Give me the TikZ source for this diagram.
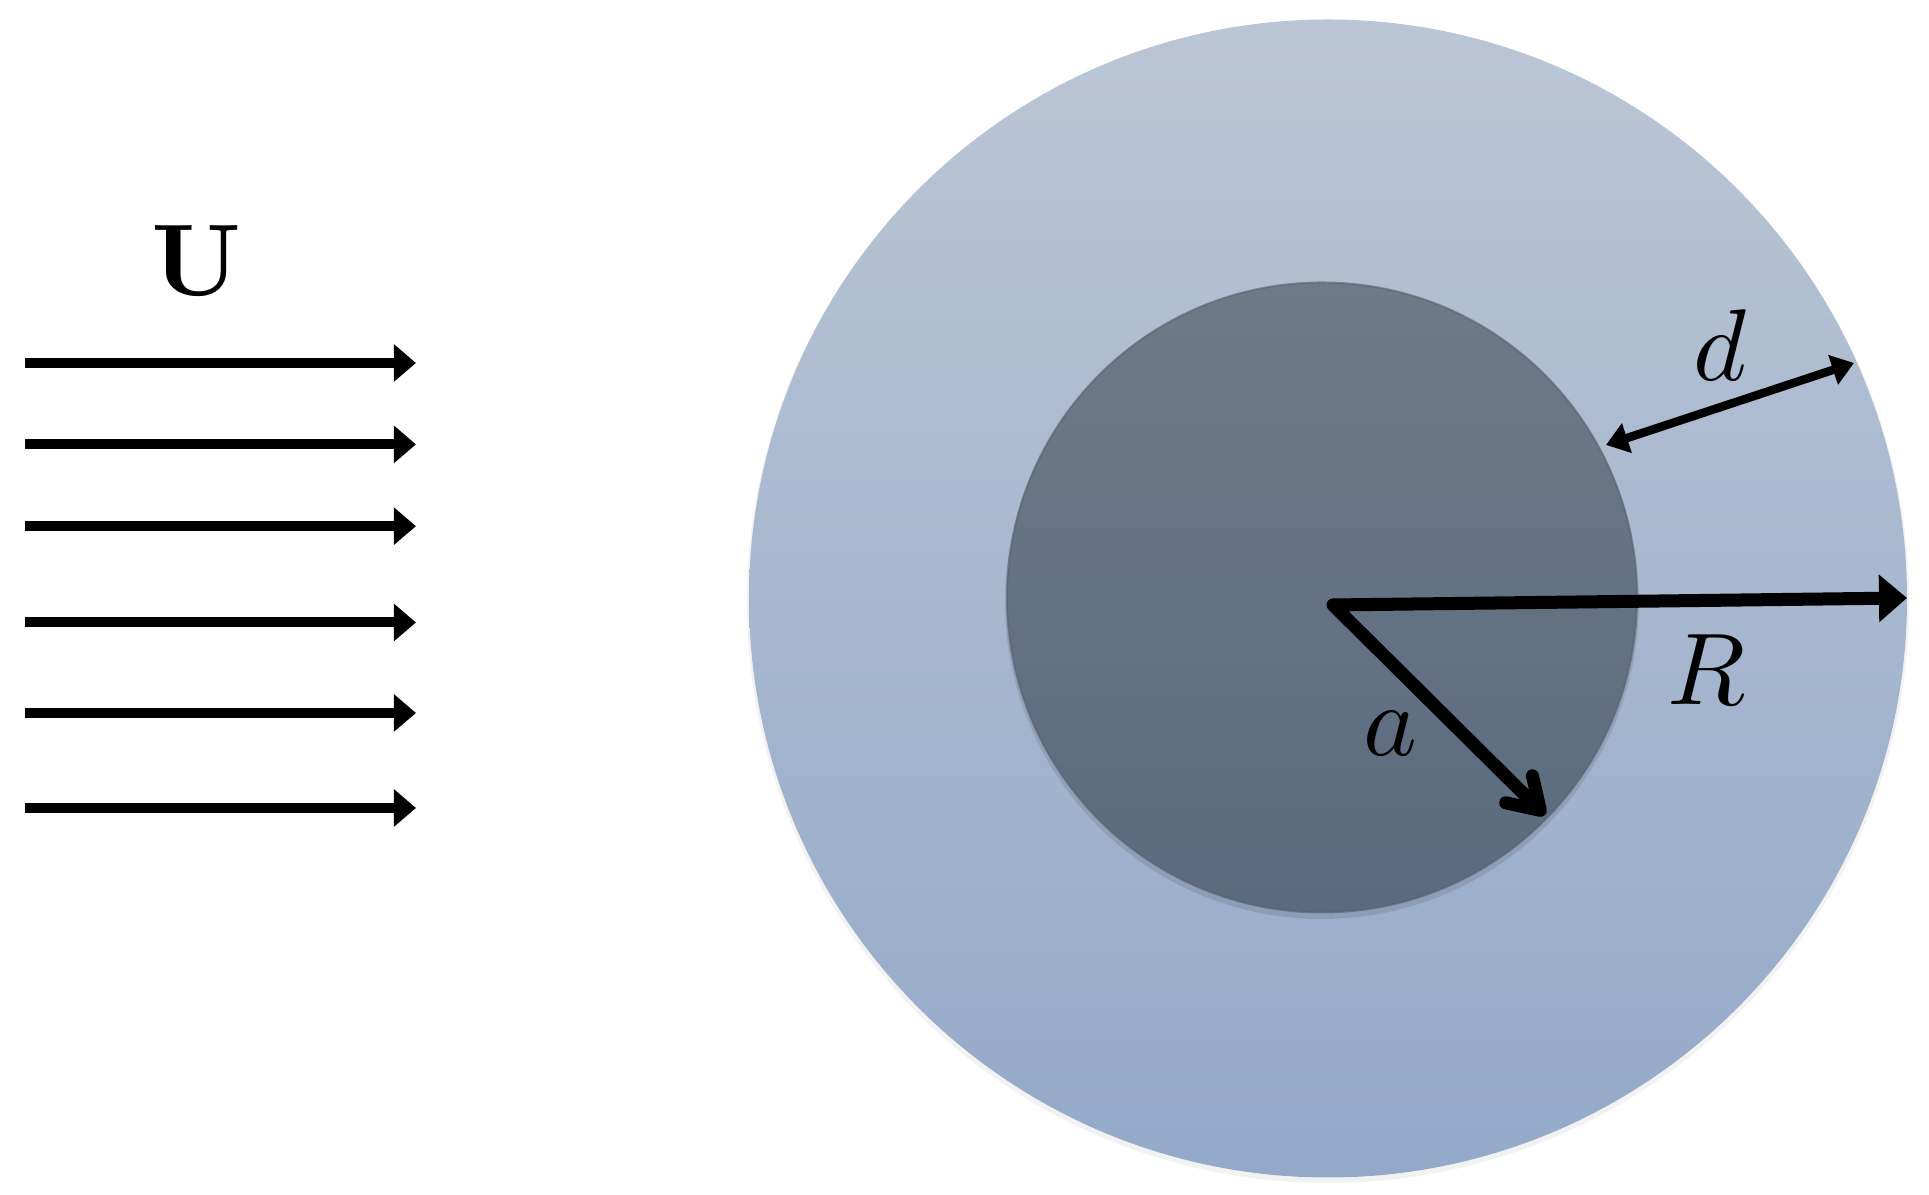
\documentclass[tikz,border=0pt]{standalone}
\usetikzlibrary{arrows.meta}
\definecolor{outtop}{HTML}{BAC6D5}
\definecolor{outbot}{HTML}{94A9C8}
\definecolor{intop}{HTML}{6D7A88}
\definecolor{inbot}{HTML}{5A6B7F}
\definecolor{inrim}{HTML}{56626F}
\tikzset{
  flow/.style={line width=0.1cm, -{Triangle[length=0.22cm,width=0.36cm]}},
  radR/.style={line width=0.13cm, -{Triangle[length=0.28cm,width=0.46cm]}},
  rada/.style={line width=0.13cm, line cap=round, -{Straight Barb[length=0.3cm,width=0.38cm,round]}},
  gap/.style={line width=0.085cm, {Triangle[length=0.22cm,width=0.3cm]}-{Triangle[length=0.22cm,width=0.3cm]}},
  lbl/.style={scale=2.9, inner sep=0pt}
}
\begin{document}
\begin{tikzpicture}[x=0.01cm,y=0.01cm]
\useasboundingbox (0,0) rectangle (1929,1195);
% outer disc with soft shadow
\fill[black, opacity=0.05] (1328,593) circle (581);
\shade[top color=outtop, bottom color=outbot] (1328,596.5) circle (579);
% inner disc with soft shadow and rim
\fill[black, opacity=0.10] (1322,593) circle (317);
\shade[top color=intop, bottom color=inbot] (1322,597.5) circle (315);
\draw[inrim, opacity=0.6, line width=0.02cm] (1322,597.5) circle (315);
% coordinates
\coordinate (O) at (1333,590);
\coordinate (Rtip) at (1907,597);
\coordinate (atip) at (1545,380);
\coordinate (dL) at (1606,750);
\coordinate (dR) at (1854,832);
% radius arrows
\draw[radR] (O) -- (Rtip);
\draw[rada] (O) -- (atip);
\draw[gap] (dL) -- (dR);
% labels
\node[lbl] (Ulbl) at (197,934) {$\mathbf{U}$};
\node[lbl] (dlbl) at (1720,850) {$d$};
\node[lbl] (Rlbl) at (1707,525) {$R$};
\node[lbl] (albl) at (1390,461) {$a$};
% flow arrows
\foreach \i/\y in {1/832,2/750.6,3/668.8,4/572.5,5/482,6/387}{
  \coordinate (s\i) at (25,\y);
  \coordinate (e\i) at (416,\y);
  \draw[flow] (s\i) -- (e\i);
}
\end{tikzpicture}
\end{document}
